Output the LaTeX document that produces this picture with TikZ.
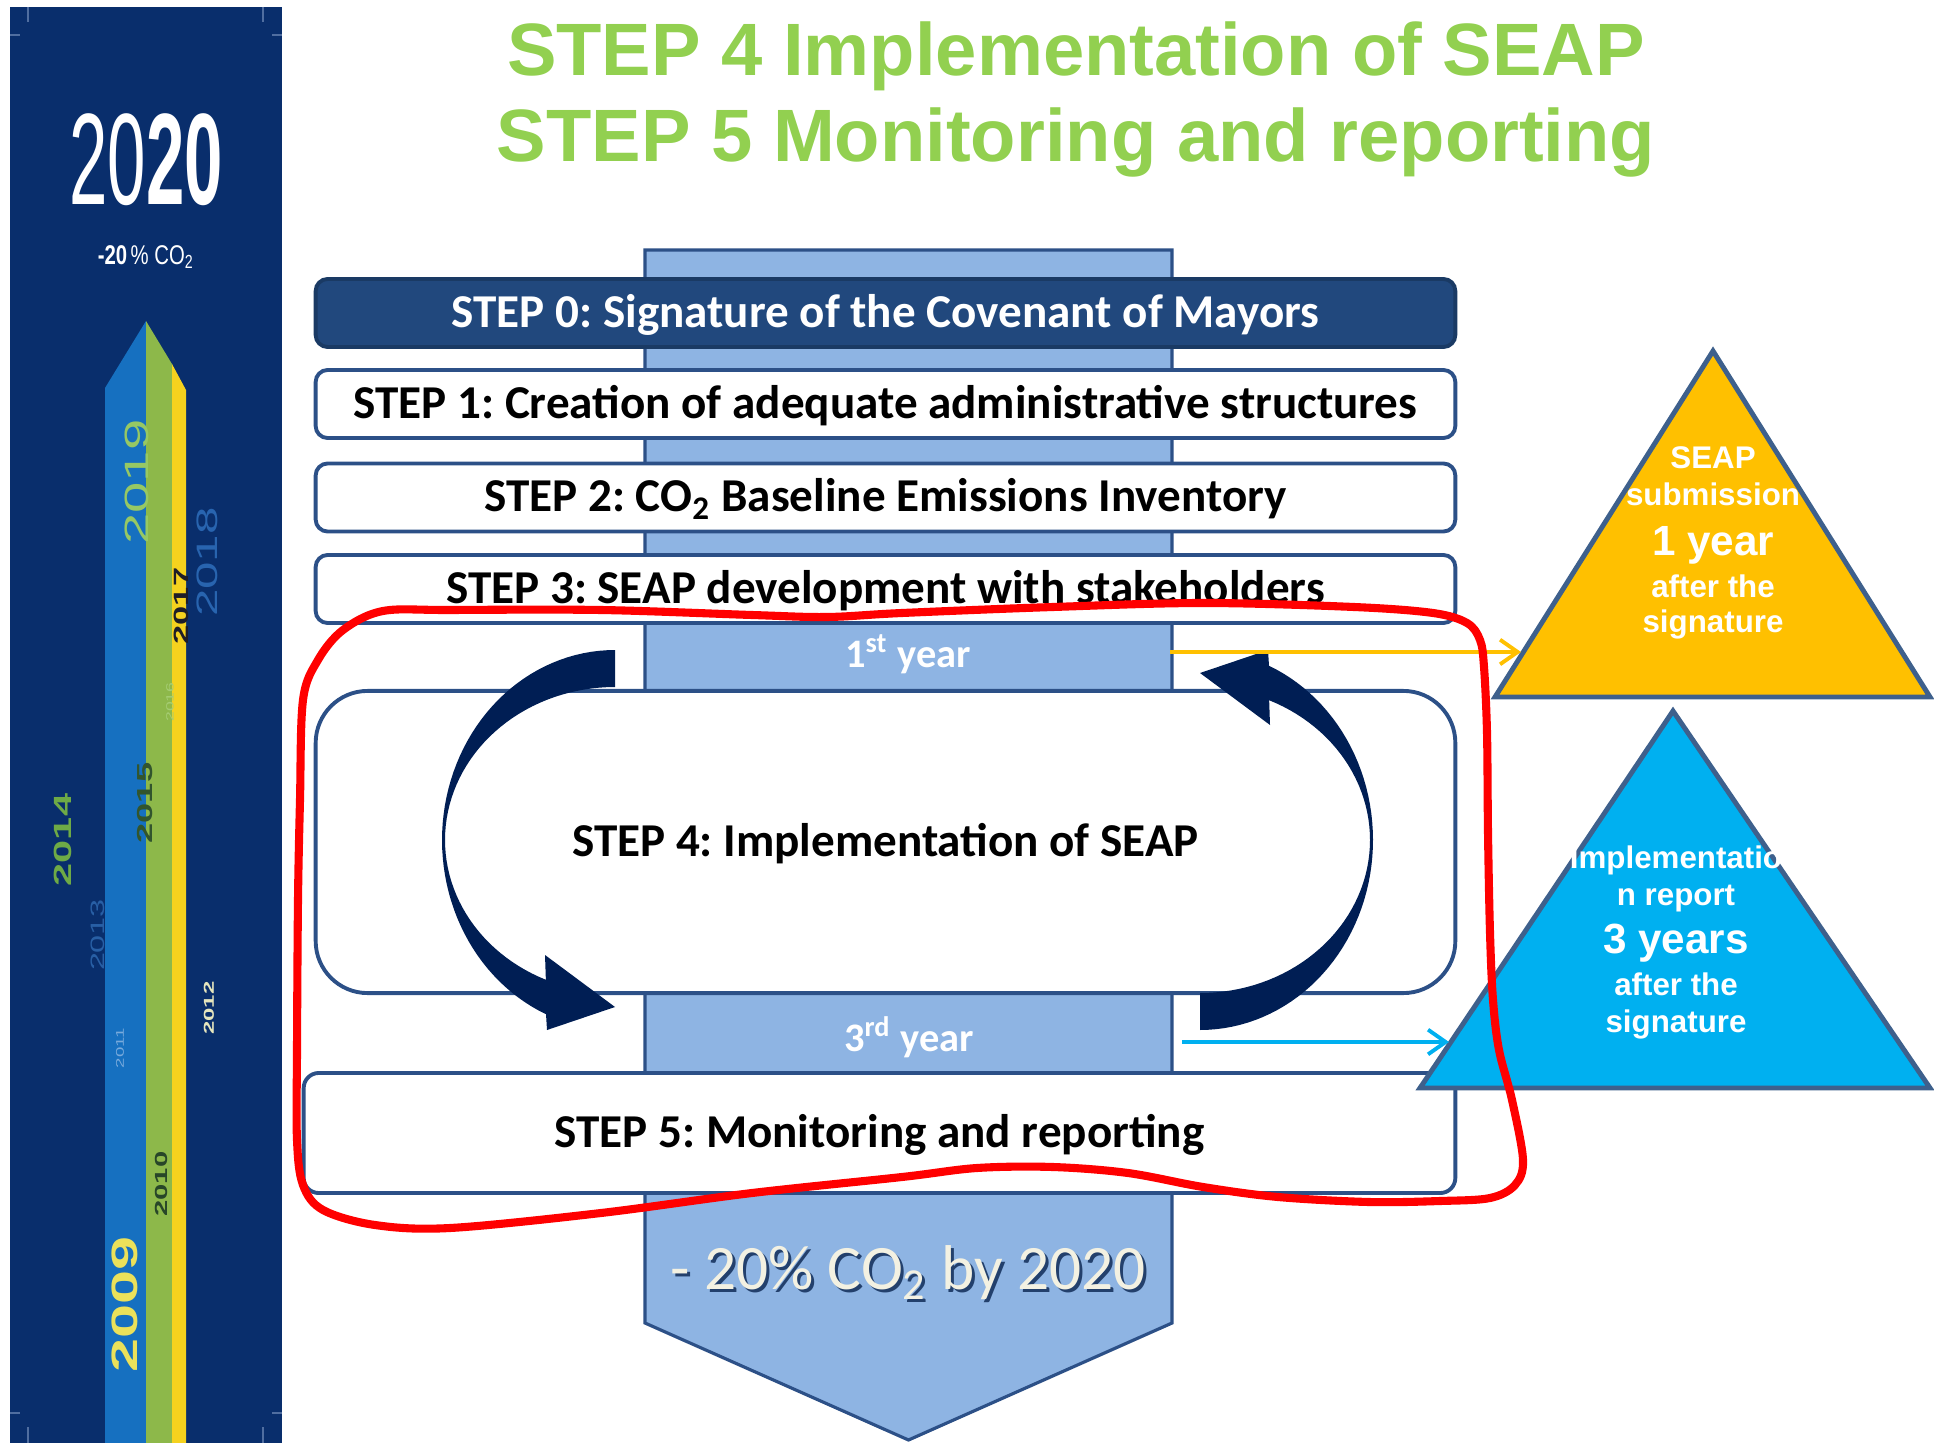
\documentclass[tikz,border=0pt]{standalone}
\usepackage{fontspec}
\usepackage{graphicx}
\setmainfont{Liberation Sans}
\newfontfamily\calibri{Carlito}
\usetikzlibrary{arrows.meta, calc}
\frenchspacing

\definecolor{panel}{RGB}{9,46,108}
\definecolor{titlegreen}{RGB}{146,208,80}
\definecolor{column}{RGB}{142,180,227}
\definecolor{edgeblue}{RGB}{44,80,135}
\definecolor{stepzero}{RGB}{33,72,125}
\definecolor{cyclenavy}{RGB}{0,30,84}
\definecolor{seapyellow}{RGB}{255,192,0}
\definecolor{reportblue}{RGB}{0,176,240}
\definecolor{trioutline}{RGB}{62,96,140}
\definecolor{barblue}{RGB}{22,112,192}
\definecolor{bargreen}{RGB}{141,184,74}
\definecolor{baryellow}{RGB}{245,210,30}
\definecolor{tickblue}{RGB}{80,110,160}
\definecolor{cream}{RGB}{243,241,226}

\newcommand{\fsize}[1]{\fontsize{#1}{#1}\selectfont}
\newcommand{\squeeze}[1]{\scalebox{1}[0.6]{#1}}

\begin{document}
\begin{tikzpicture}[x=0.01cm, y=-0.01cm]

\tikzstyle{titletext}=[text=titlegreen, font=\bfseries\fsize{21.1pt}, inner sep=0pt, anchor=base]
\tikzstyle{stepbox}=[draw=edgeblue, line width=1.1pt, fill=white, rounded corners=3.4pt, minimum width=11.39cm, minimum height=0.68cm, inner sep=0pt, text depth=0.12em, font=\calibri\bfseries\fsize{13.4pt}]
\tikzstyle{yearband}=[text=white, font=\calibri\bfseries\fsize{11.5pt}, inner sep=0pt]
\tikzstyle{yearlabel}=[rotate=90, inner sep=0pt]
\tikzstyle{turnarrow}=[fill=cyclenavy]
\tikzstyle{triedge}=[draw=trioutline, line width=1.4pt, line join=miter]
\tikzstyle{trismall}=[text=white, font=\bfseries\fsize{8.9pt}, inner sep=0pt, anchor=base]
\tikzstyle{tribig}=[text=white, font=\bfseries\fsize{12pt}, inner sep=0pt, anchor=base]
\tikzstyle{linkarrow}=[line width=1.1pt, -{Straight Barb[length=5pt, width=7pt]}]

\useasboundingbox (0,0) rectangle (1934,1443);

% left panel
\fill[panel] (10,7) rectangle (282,1443);
\fill[barblue] (105,1443) -- (105,388) -- (146,321) -- (146,1443) -- cycle;
\fill[bargreen] (146,1443) -- (146,321) -- (172,364) -- (172,1443) -- cycle;
\fill[baryellow] (172,1443) -- (172,364) -- (186,390) -- (186,1443) -- cycle;
\draw[tickblue, line width=0.6pt] (28,7) -- (28,22) (10,35) -- (20,35) (263,7) -- (263,22) (272,35) -- (282,35)
  (10,1413) -- (20,1413) (28,1427) -- (28,1443) (272,1413) -- (282,1413) (263,1427) -- (263,1443);

\node[text=white, inner sep=0pt] (big2020) at (146,160) {\scalebox{0.53}[1]{\fsize{37pt}20\textbf{20}}};
\node[text=white, inner sep=0pt] (minus20) at (146,257) {\scalebox{0.75}[1]{\fsize{7.7pt}\textbf{-20}\,\%\ CO\textsubscript{2}}};

\node[yearlabel, text={rgb,255:red,150;green,200;blue,100}, font=\fsize{16pt}] (y2019) at (137,482) {\squeeze{2019}};
\node[yearlabel, text={rgb,255:red,40;green,100;blue,175}, font=\fsize{14pt}] (y2018) at (207,562) {\squeeze{2018}};
\node[yearlabel, text={rgb,255:red,30;green,30;blue,40}, font=\bfseries\fsize{9.8pt}] (y2017) at (181,606) {\squeeze{2017}};
\node[yearlabel, text={rgb,255:red,165;green,205;blue,115}, font=\fsize{5pt}] (y2016) at (170,702) {\squeeze{2016}};
\node[yearlabel, text={rgb,255:red,50;green,85;blue,45}, font=\bfseries\fsize{10.3pt}] (y2015) at (145,803) {\squeeze{2015}};
\node[yearlabel, text={rgb,255:red,110;green,170;blue,70}, font=\bfseries\fsize{11.8pt}] (y2014) at (63,840) {\squeeze{2014}};
\node[yearlabel, text={rgb,255:red,40;green,95;blue,165}, font=\fsize{9.2pt}] (y2013) at (98,935) {\squeeze{2013}};
\node[yearlabel, text={rgb,255:red,230;green,230;blue,190}, font=\bfseries\fsize{6.8pt}] (y2012) at (209,1008) {\squeeze{2012}};
\node[yearlabel, text={rgb,255:red,120;green,170;blue,220}, font=\fsize{5.3pt}] (y2011) at (120,1048) {\squeeze{2011}};
\node[yearlabel, text={rgb,255:red,40;green,70;blue,40}, font=\bfseries\fsize{8.3pt}] (y2010) at (161,1184) {\squeeze{2010}};
\node[yearlabel, text={rgb,255:red,235;green,225;blue,90}, font=\bfseries\fsize{17.4pt}] (y2009) at (125,1304) {\squeeze{2009}};

% title
\node[titletext] (title4) at (1076,76) {STEP 4 Implementation of SEAP};
\node[titletext] (title5) at (1076,162) {STEP 5 Monitoring and reporting};

% central column
\filldraw[fill=column, draw=edgeblue, line width=0.9pt] (645,250) -- (645,1323) -- (908.5,1440) -- (1172,1323) -- (1172,250) -- cycle;

\node[stepbox, fill=stepzero, draw=stepzero!80!black, text=white] (step0) at (885.5,313) {STEP 0: Signature of the Covenant of Mayors};
\node[stepbox] (step1) at (885.5,404) {STEP 1: Creation of adequate administrative structures};
\node[stepbox] (step2) at (885.5,497.5) {STEP 2: CO\textsubscript{2} Baseline Emissions Inventory};
\node[stepbox] (step3) at (885.5,589) {STEP 3: SEAP development with stakeholders};
\node[stepbox, minimum height=3.02cm, rounded corners=14.8pt] (step4) at (885.5,842) {STEP 4: Implementation of SEAP};
\node[stepbox, minimum width=11.51cm, minimum height=1.2cm, rounded corners=4.3pt] (step5) at (879.5,1133) {STEP 5: Monitoring and reporting};

\node[yearband] (year1) at (908,654) {1\textsuperscript{st} year};
\node[yearband] (year3) at (909,1037) {3\textsuperscript{rd} year};

\node[font=\calibri\fsize{18pt}, text=edgeblue!80!black, inner sep=0pt] (goalshade) at (911,1276) {- 20\% CO\textsubscript{2} by 2020};
\node[font=\calibri\fsize{18pt}, text=cream, inner sep=0pt] (goal) at (908,1273) {- 20\% CO\textsubscript{2} by 2020};

% cycle arrows
\foreach \ang in {0,180}
  \fill[turnarrow, rotate around={\ang:(907.5,840)}]
    plot[domain=270:113.5, samples=60] ({615+173*cos(\x)}, {840+190*sin(\x)})
    -- (547,1030) -- (615,1007) -- (545,955)
    -- plot[domain=114:270, samples=60] ({615+170*cos(\x)}, {840+153*sin(\x)}) -- cycle;

% triangles
\filldraw[triedge, fill=seapyellow] (1713,351) -- (1930,697) -- (1495,697) -- cycle;
\filldraw[triedge, fill=reportblue] (1673,711) -- (1930,1088) -- (1420,1088) -- cycle;

\coordinate (firstout) at (1170,652);
\coordinate (seapin) at (1521,652);
\coordinate (thirdout) at (1182,1042);
\coordinate (reportin) at (1449,1042);
\draw[linkarrow, seapyellow] (firstout) -- (seapin);
\draw[linkarrow, reportblue] (thirdout) -- (reportin);

\node[trismall] (seap) at (1713,469) {SEAP};
\node[trismall] (submission) at (1713,506) {submission};
\node[tribig] (oneyear) at (1713,556) {1 year};
\node[trismall] (afterA) at (1713,597) {after the};
\node[trismall] (signA) at (1713,633) {signature};

\node[trismall] (implement) at (1676,868) {Implementatio};
\node[trismall] (report) at (1676,905) {n report};
\node[tribig] (threeyears) at (1676,953) {3 years};
\node[trismall] (afterB) at (1676,995) {after the};
\node[trismall] (signB) at (1676,1032) {signature};

% red outline
\draw[red, line width=2.3pt] plot[smooth cycle, tension=0.55] coordinates {
  (303,700) (318,660) (343,630) (383,611) (450,610) (601,610) (752,615) (827,617) (902,613)
  (1053,607) (1203,603) (1354,607) (1433,613) (1467,623) (1480,640) (1484,667) (1487,733)
  (1488,833) (1490,933) (1493,1000) (1499,1050) (1512,1100) (1523,1160) (1515,1185) (1490,1198)
  (1440,1201) (1369,1202) (1278,1197) (1203,1187) (1128,1173) (1053,1167) (977,1168) (902,1177)
  (752,1193) (601,1213) (450,1228) (375,1225) (323,1210) (303,1185) (297,1140) (297,1050)
  (298,900) (300,800)};

\end{tikzpicture}
\end{document}
